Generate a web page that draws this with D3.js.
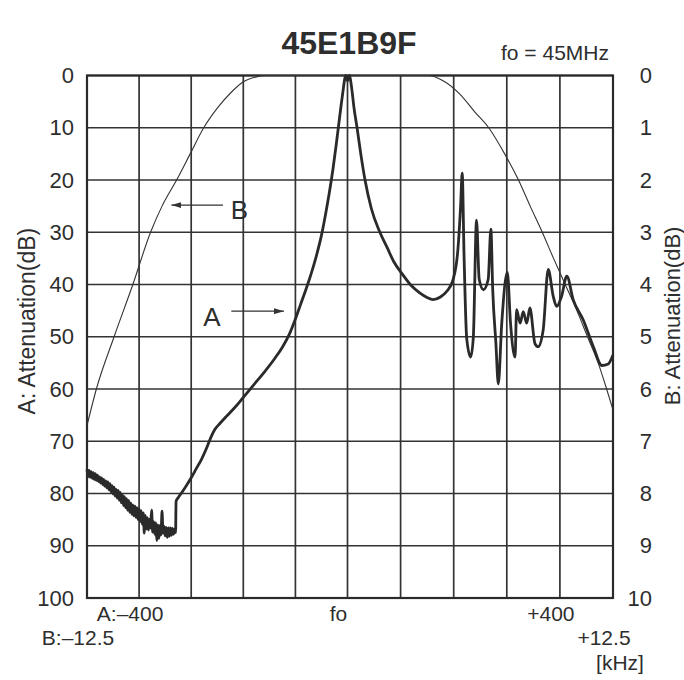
<!DOCTYPE html>
<html>
<head>
<meta charset="utf-8">
<script src="https://cdn.jsdelivr.net/npm/d3@7/dist/d3.min.js"></script>
<style>
body { margin: 0; background: #fff; }
text { font-family: "Liberation Sans", Arial, Helvetica, sans-serif; fill: #2e2e2e; }
</style>
</head>
<body>
<svg id="chart" width="684" height="680"></svg>
<script>
// curve A: [offset from fo in kHz, attenuation dB]  (scale -500..+500 kHz, 0..100 dB)
// left part is the noisy floor of the measurement
var curveA = [
  [-500, 75.4], [-498, 76.8], [-496, 75.6], [-494, 76.9], [-492, 75.8], [-490, 77.1],
  [-488, 76.0], [-486, 77.3], [-484, 76.2], [-482, 77.5], [-480, 76.5], [-478, 77.7],
  [-476, 76.8], [-474, 78.0], [-472, 77.0], [-470, 78.3], [-468, 77.3], [-466, 78.6],
  [-464, 77.6], [-462, 78.9], [-460, 77.8], [-458, 79.3], [-456, 78.1], [-454, 79.7],
  [-452, 78.5], [-450, 80.1], [-448, 78.8], [-446, 80.5], [-444, 79.2], [-442, 80.9],
  [-440, 79.4], [-438, 81.3], [-436, 79.8], [-434, 81.8], [-432, 80.2], [-430, 82.3],
  [-428, 80.6], [-426, 82.7], [-424, 81.0], [-422, 83.2], [-420, 81.3], [-418, 83.6],
  [-416, 81.8], [-414, 84.0], [-412, 82.2], [-410, 84.3], [-408, 82.4], [-406, 84.6],
  [-404, 82.7], [-402, 85.0], [-400, 82.9], [-398, 85.4], [-396, 83.3], [-394, 85.9],
  [-392, 83.7], [-390, 87.6], [-388, 84.2], [-386, 86.8], [-384, 84.6], [-382, 87.0],
  [-380, 84.9], [-378, 86.6], [-376, 83.2], [-374, 87.4], [-372, 85.4], [-370, 87.8],
  [-368, 85.6], [-366, 89.0], [-364, 86.0], [-362, 88.6], [-360, 86.1], [-358, 87.9],
  [-356, 83.4], [-354, 87.6], [-352, 86.3], [-350, 88.1], [-348, 86.5], [-346, 88.4],
  [-344, 86.6], [-342, 88.2], [-340, 86.6], [-338, 88.0], [-336, 86.7], [-334, 87.8],
  [-332, 86.8], [-330, 87.5],
  [-329, 81.5], [-325, 80.8], [-318, 79.8], [-310, 78.6], [-300, 77.0], [-290, 75.2],
  [-280, 73.4], [-270, 71.2], [-262, 69.2], [-255, 67.8], [-245, 66.6], [-232, 65.2],
  [-215, 63.4], [-200, 61.6], [-180, 59.2], [-160, 56.8], [-140, 54.2], [-125, 52.0],
  [-112, 49.6], [-100, 46.6], [-90, 43.8], [-80, 41.0], [-70, 38.0], [-60, 34.6],
  [-50, 30.6], [-42, 26.5], [-35, 22.5], [-28, 18.0], [-22, 13.5], [-17, 9.5],
  [-12, 5.5], [-8, 2.5], [-5, 0.5], [-3, 0], [0, 1.0], [3, 0], [5, 0.5], [8, 2.5],
  [12, 6.0], [18, 10.0], [25, 15.0], [33, 20.0], [45, 25.5], [61, 30.0], [75, 33.0],
  [87, 35.6], [104, 38.1], [120, 40.2], [136, 41.6], [150, 42.5], [161, 42.9],
  [175, 42.4], [187, 41.3], [199, 39.0], [208, 33.2], [213, 25.0], [216, 18.7],
  [219.5, 34.5], [224.5, 50.3], [232, 53.9], [237, 50.0], [243, 27.7], [248, 39.0],
  [256, 41.0], [265, 39.0], [270, 29.4], [273.5, 41.0], [279.5, 51.3], [284, 59.0],
  [290.5, 47.4], [301, 37.7], [307, 47.4], [315.5, 53.9], [318.5, 44.8], [325, 47.4],
  [331, 45.2], [337.5, 47.4], [343.5, 44.5], [353, 51.3], [359, 51.9], [368.5, 48.7],
  [378, 37.1], [387.5, 42.3], [394, 44.2], [403, 42.3], [413, 38.4], [425, 42.9],
  [444, 46.8], [463, 51.9], [479, 55.5], [491, 55.2], [500, 53.5]
];

// curve B: [offset from fo in kHz, attenuation dB]  (scale -12.5..+12.5 kHz, 0..10 dB)
var curveB = [
  [-12.5, 6.7], [-12.05, 6.0], [-11.2, 5.0], [-10.3, 4.0], [-9.45, 3.0], [-8.9, 2.5],
  [-8.2, 2.0], [-7.55, 1.5], [-6.9, 1.0], [-6.2, 0.6], [-5.6, 0.33], [-5.0, 0.12],
  [-4.3, 0.02], [-4.0, 0], [3.8, 0], [4.5, 0.1], [5.3, 0.36], [6.0, 0.7], [6.65, 1.0],
  [7.4, 1.5], [8.05, 2.0], [8.6, 2.5], [9.17, 3.0], [9.7, 3.5], [10.25, 4.0],
  [10.8, 4.5], [11.3, 5.0], [11.8, 5.5], [12.2, 6.0], [12.5, 6.4]
];

var aTicks = d3.range(0, 101, 10);
var bTicks = d3.range(0, 11, 1);
var freqGrid = d3.range(-500, 501, 100);

var aLabelVals = [-400, 0, 400];
var aLabelText = ["A:\u2013400", "fo", "+400"];
var bLabelVals = [-12.5, 12.5];
var bLabelText = ["B:\u201312.5", "+12.5"];

var plotL = 87, plotR = 613, plotT = 75.5, plotB = 598;
var svg = d3.select("#chart");

var x = d3.scaleLinear().domain([-500, 0, 500]).range([plotL, 347.5, plotR]);
var xB = d3.scaleLinear().domain([-12.5, 0, 12.5]).range([plotL, 347.5, plotR]);
var y = d3.scaleLinear().domain([0, 100]).range([plotT, plotB]);
var yB = d3.scaleLinear().domain([0, 10]).range([plotT, plotB]);

// grid
svg.append("g").selectAll("line")
  .data(freqGrid).enter().append("line")
  .attr("x1", function(d) { return x(d); }).attr("x2", function(d) { return x(d); })
  .attr("y1", plotT).attr("y2", plotB)
  .attr("stroke", "#333").attr("stroke-width", 1.7);

svg.append("g").selectAll("line")
  .data(aTicks).enter().append("line")
  .attr("x1", plotL).attr("x2", plotR)
  .attr("y1", function(d) { return y(d); }).attr("y2", function(d) { return y(d); })
  .attr("stroke", "#333").attr("stroke-width", 1.7);

svg.append("rect")
  .attr("x", plotL).attr("y", plotT)
  .attr("width", plotR - plotL).attr("height", plotB - plotT)
  .attr("fill", "none").attr("stroke", "#2a2a2a").attr("stroke-width", 2.2);

// left axis (A)
var gA = svg.append("g")
  .attr("transform", "translate(" + plotL + ",0)")
  .call(d3.axisLeft(y).tickValues(aTicks).tickSize(0).tickPadding(13));
gA.select(".domain").remove();
gA.selectAll("text").attr("font-size", 22).attr("font-family", null).attr("fill", "#333");

// right axis (B)
var gB = svg.append("g")
  .attr("transform", "translate(" + plotR + ",0)")
  .call(d3.axisRight(yB).tickValues(bTicks).tickSize(0));
gB.select(".domain").remove();
gB.selectAll("text").attr("font-size", 22).attr("font-family", null).attr("fill", "#333")
  .attr("text-anchor", "end").attr("x", 39);

// bottom labels
svg.selectAll(".alab").data(aLabelVals).enter().append("text")
  .attr("x", function(d) { return x(d) - 9; })
  .attr("y", 621)
  .attr("text-anchor", "middle")
  .attr("font-size", 21)
  .text(function(d, i) { return aLabelText[i]; });

svg.selectAll(".blab").data(bLabelVals).enter().append("text")
  .attr("x", function(d) { return xB(d) - 9; })
  .attr("y", 645)
  .attr("text-anchor", "middle")
  .attr("font-size", 21)
  .text(function(d, i) { return bLabelText[i]; });

svg.append("text")
  .attr("x", 620).attr("y", 670)
  .attr("text-anchor", "middle").attr("font-size", 21)
  .text("[kHz]");

// axis titles
svg.append("text")
  .attr("transform", "translate(27," + y(47) + ") rotate(-90)")
  .attr("text-anchor", "middle").attr("dy", "0.35em")
  .attr("font-size", 23)
  .text("A: Attenuation(dB)");

svg.append("text")
  .attr("transform", "translate(672," + y(46) + ") rotate(-90)")
  .attr("text-anchor", "middle").attr("dy", "0.35em")
  .attr("font-size", 22)
  .text("B: Attenuation(dB)");

// title
svg.append("text")
  .attr("x", 349).attr("y", 54)
  .attr("text-anchor", "middle")
  .attr("font-size", 32).attr("font-weight", 700)
  .attr("fill", "#222")
  .text("45E1B9F");

svg.append("text")
  .attr("x", 501).attr("y", 60)
  .attr("font-size", 21)
  .text("fo = 45MHz");

// curves
var lineA = d3.line()
  .x(function(d) { return x(d[0]); })
  .y(function(d) { return y(d[1]); })
  .curve(d3.curveMonotoneX);

var lineB = d3.line()
  .x(function(d) { return xB(d[0]); })
  .y(function(d) { return yB(d[1]); })
  .curve(d3.curveMonotoneX);

svg.append("path")
  .datum(curveB)
  .attr("d", lineB)
  .attr("fill", "none").attr("stroke", "#333").attr("stroke-width", 1.1);

svg.append("path")
  .datum(curveA)
  .attr("d", lineA)
  .attr("fill", "none").attr("stroke", "#2a2a2a").attr("stroke-width", 2.8)
  .attr("stroke-linejoin", "round");

// arrow annotations
svg.append("defs").append("marker")
  .attr("id", "head")
  .attr("viewBox", "0 0 10 6")
  .attr("refX", 10).attr("refY", 3)
  .attr("markerWidth", 10).attr("markerHeight", 6)
  .attr("markerUnits", "userSpaceOnUse")
  .attr("orient", "auto")
  .append("path").attr("d", "M0,0L10,3L0,6Z").attr("fill", "#333");

svg.append("line")
  .attr("x1", x(-239)).attr("x2", x(-338))
  .attr("y1", y(24.8)).attr("y2", y(24.8))
  .attr("stroke", "#333").attr("stroke-width", 1.2)
  .attr("marker-end", "url(#head)");
svg.append("text")
  .attr("x", x(-224)).attr("y", y(27.4))
  .attr("font-size", 26)
  .text("B");

svg.append("line")
  .attr("x1", x(-223)).attr("x2", x(-122))
  .attr("y1", y(45.1)).attr("y2", y(45.1))
  .attr("stroke", "#333").attr("stroke-width", 1.2)
  .attr("marker-end", "url(#head)");
svg.append("text")
  .attr("x", x(-277)).attr("y", y(48))
  .attr("font-size", 26)
  .text("A");
</script>
</body>
</html>
